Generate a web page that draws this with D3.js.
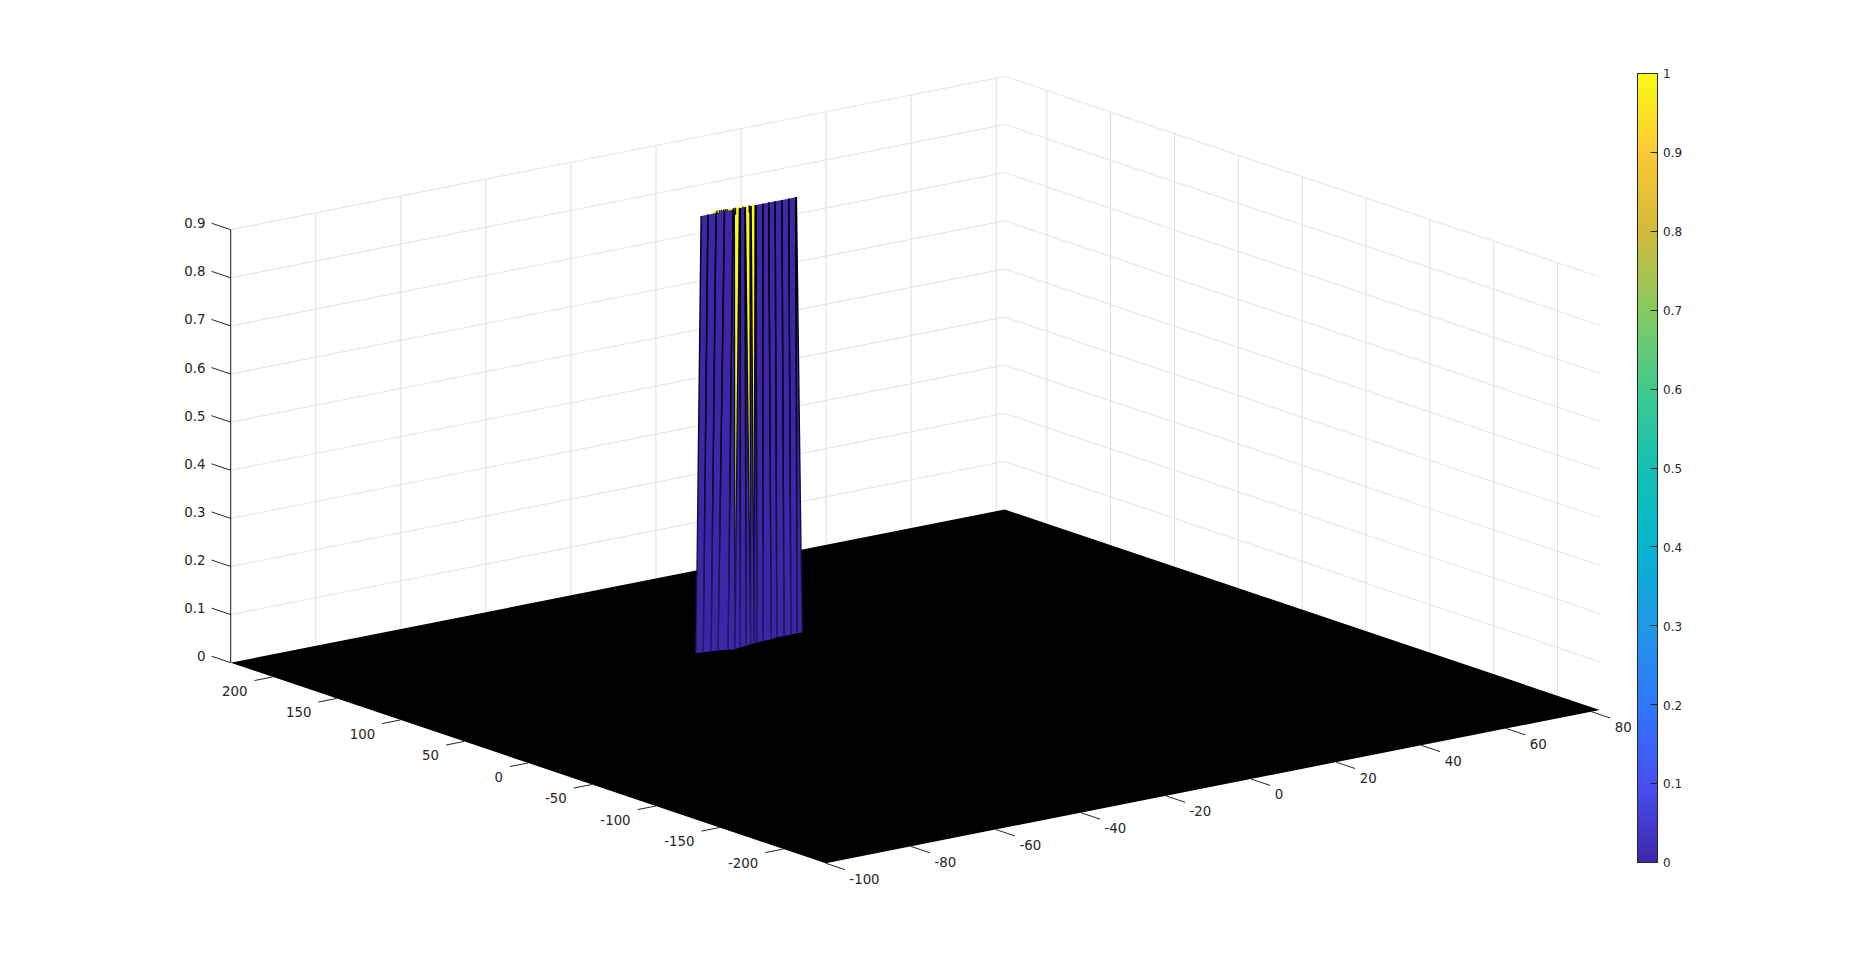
<!DOCTYPE html>
<html>
<head>
<meta charset="utf-8">
<script src="https://cdnjs.cloudflare.com/ajax/libs/d3/7.8.5/d3.min.js"></script>
<style>
html,body{margin:0;padding:0;background:#fff;overflow:hidden}
svg{display:block}
text{font-family:"DejaVu Sans",sans-serif;fill:#262626}
</style>
</head>
<body>
<svg id="chart" width="1853" height="970"></svg>
<script>
// ---- axis data
const xLimits = [-100, 82];
const yLimits = [233, -233];
const zLimits = [0, 0.9];
const xTicks = [-100, -80, -60, -40, -20, 0, 20, 40, 60, 80];
const yTicks = [200, 150, 100, 50, 0, -50, -100, -150, -200];
const zTicks = [0, 0.1, 0.2, 0.3, 0.4, 0.5, 0.6, 0.7, 0.8, 0.9];
const colorTicks = [0, 0.1, 0.2, 0.3, 0.4, 0.5, 0.6, 0.7, 0.8, 0.9, 1];
const parula = ["#3e26a8", "#4850f2", "#2f78fb", "#1f98e8", "#06b4d0", "#14c1b4", "#3fca8c", "#86cb60", "#d3b93a", "#fcc934", "#f9fb15"];

// ---- surface wall: foot of each mesh line (z = 0)
const baseX = [-26.9, -25.4, -23.8, -22.5, -20.7, -19.4, -17.7, -16.2, -14.85, -13.9, -13.2, -11.6, -9.6, -7.9, -6.3, -4.7, -3.2, -2.1];
const baseY = [112.0, 111.4, 110.6, 109.4, 107.6, 106.6, 108.0, 108.5, 109.4, 109.8, 110.0, 110.5, 110.8, 112.0, 111.7, 111.6, 111.8, 111.6];
// top of each strip (clipped at the z limit)
const topLeftX  = [-24.3, -22.7, -20.8, -18.8, -16.8, -15.3, -15.1, -13.95, -12.8, -11.6, -11.4, -9.8, -8.4, -6.9, -5.3, -3.7, -2.05];
const topRightX = [-22.7, -20.8, -18.8, -16.8, -16.5, -15.1, -13.95, -13.9, -12.55, -11.4, -9.8, -8.4, -6.9, -5.3, -3.7, -2.05, -1.9];
const topY = 116.7;
// yellow ridge behind the wall
const ridgeX = [-20.45, -11.4];
const ridgeY = [120.2, 117.6];
const ridgeMarksX = [-19.6, -19.0, -18.6, -18.2, -17.8, -17.4, -16.0, -15.6, -14.0, -12.6];

// ---- projection (orthographic, through D3 scales)
const origin = [230.7, 662.7], ex = [774, -153.3], ey = [595, 200.5], zHeight = 433;
const ux = d3.scaleLinear().domain(xLimits).range([0, 1]);
const uy = d3.scaleLinear().domain(yLimits).range([0, 1]);
const uz = d3.scaleLinear().domain(zLimits).range([0, zHeight]);
const P = (x, y, z = 0) => [
  origin[0] + ux(x) * ex[0] + uy(y) * ey[0],
  origin[1] + ux(x) * ex[1] + uy(y) * ey[1] - uz(z)
];
const line = d3.line();

const svg = d3.select("#chart");
const defs = svg.append("defs");

const edgeGrad = defs.append("linearGradient").attr("id", "edge").attr("gradientUnits", "userSpaceOnUse")
  .attr("x1", 0).attr("x2", 0).attr("y1", 200).attr("y2", 650);
edgeGrad.append("stop").attr("offset", 0).attr("stop-color", "#000000");
edgeGrad.append("stop").attr("offset", 0.55).attr("stop-color", "#0a0828");
edgeGrad.append("stop").attr("offset", 1).attr("stop-color", "#241a66");

const ridgeGrad = defs.append("linearGradient").attr("id", "ridge").attr("gradientUnits", "userSpaceOnUse")
  .attr("x1", 0).attr("x2", 0).attr("y1", 200).attr("y2", 650);
ridgeGrad.append("stop").attr("offset", 0).attr("stop-color", parula[10]);
ridgeGrad.append("stop").attr("offset", 0.66).attr("stop-color", parula[10]);
ridgeGrad.append("stop").attr("offset", 0.8).attr("stop-color", "#4c4a14");
ridgeGrad.append("stop").attr("offset", 1).attr("stop-color", "#2a2440");

const cbGrad = defs.append("linearGradient").attr("id", "cb").attr("x1", 0).attr("x2", 0).attr("y1", 1).attr("y2", 0);
parula.forEach((c, i) => cbGrad.append("stop").attr("offset", i / (parula.length - 1)).attr("stop-color", c));

// ---- walls' grid
const grid = svg.append("g").attr("stroke-width", 1).attr("fill", "none");
const [x0, x1] = xLimits, [y0, y1] = yLimits;
zTicks.slice(1).forEach(z => {
  grid.append("path").attr("stroke", "#e4e4e4").attr("d", line([P(x0, y0, z), P(x1, y0, z), P(x1, y1, z)]));
});
xTicks.slice(1).forEach(x => {
  grid.append("path").attr("stroke", "#dedede").attr("d", line([P(x, y0, 0), P(x, y0, zLimits[1])]));
});
yTicks.forEach(y => {
  grid.append("path").attr("stroke", "#dedede").attr("d", line([P(x1, y, 0), P(x1, y, zLimits[1])]));
});

// ---- z axis
svg.append("path").attr("d", line([P(x0, y0, 0), P(x0, y0, zLimits[1])])).attr("stroke", "#1a1a1a").attr("fill", "none");

// ---- floor (dense black mesh)
svg.append("path").attr("d", line([P(x0, y0), P(x1, y0), P(x1, y1), P(x0, y1)]) + "Z").attr("fill", "#000");

// ---- yellow ridge
svg.append("path").attr("d", line([
  P(ridgeX[0], ridgeY[0], zLimits[1]), P(ridgeX[1], ridgeY[1], zLimits[1]),
  P(ridgeX[1], ridgeY[1], 0), P(ridgeX[0], ridgeY[0], 0)]) + "Z").attr("fill", "url(#ridge)");
const ridgeYAt = d3.scaleLinear().domain(ridgeX).range(ridgeY);
svg.append("g").selectAll("path").data(ridgeMarksX).join("path")
  .attr("d", x => line([P(x, ridgeYAt(x), 0.9), P(x, ridgeYAt(x), 0.885)]))
  .attr("stroke", "#111").attr("stroke-width", 1.4).attr("fill", "none");

// ---- blue wall strips
const strips = topLeftX.map((tl, i) => ({
  bl: P(baseX[i], baseY[i], 0), br: P(baseX[i + 1], baseY[i + 1], 0),
  tl: P(tl, topY, zLimits[1]), tr: P(topRightX[i], topY, zLimits[1])
}));
svg.append("g").selectAll("path").data(strips).join("path")
  .attr("d", s => line([s.bl, s.br, s.tr, s.tl]) + "Z")
  .attr("fill", parula[0]);
const edges = svg.append("g").attr("stroke", "url(#edge)").attr("stroke-width", 1.4).attr("fill", "none");
strips.forEach(s => {
  edges.append("path").attr("d", line([s.bl, s.tl]));
  edges.append("path").attr("d", line([s.br, s.tr]));
});

// ---- ticks and labels
const ticks = svg.append("g").attr("stroke", "#262626").attr("fill", "none");
const labels = svg.append("g").attr("font-size", "13.33px");
const fmt = d => String(d);
zTicks.forEach(z => {
  const a = P(x0, y0, z), b = P(x0, y0 + 15, z);
  ticks.append("path").attr("d", line([a, b]));
  labels.append("text").text(fmt(z)).attr("x", b[0] - 6).attr("y", b[1] + 0.5)
    .attr("text-anchor", "end").attr("dominant-baseline", "central");
});
yTicks.forEach(y => {
  const a = P(x0, y, 0), b = P(x0 - 4.3, y, 0);
  ticks.append("path").attr("d", line([a, b]));
  labels.append("text").text(fmt(y)).attr("x", b[0] - 7).attr("y", b[1] + 10.5)
    .attr("text-anchor", "end").attr("dominant-baseline", "central");
});
xTicks.forEach(x => {
  const a = P(x, y1, 0), b = P(x, y1 - 15, 0);
  ticks.append("path").attr("d", line([a, b]));
  labels.append("text").text(fmt(x)).attr("x", b[0] + 4.5).attr("y", b[1] + 9.5)
    .attr("text-anchor", "start").attr("dominant-baseline", "central");
});

// ---- colorbar
const cbX = 1637.5, cbW = 20;
const cbScale = d3.scaleLinear().domain([0, 1]).range([862.5, 73.5]);
const cb = svg.append("g");
cb.append("rect").attr("x", cbX).attr("y", cbScale(1)).attr("width", cbW).attr("height", cbScale(0) - cbScale(1))
  .attr("fill", "url(#cb)").attr("stroke", "#262626");
cb.selectAll("line").data(colorTicks.slice(1, -1)).join("line")
  .attr("x1", cbX + cbW - 7).attr("x2", cbX + cbW)
  .attr("y1", d => Math.floor(cbScale(d)) + 0.5).attr("y2", d => Math.floor(cbScale(d)) + 0.5)
  .attr("stroke", "#262626");
cb.selectAll("text").data(colorTicks).join("text").text(fmt)
  .attr("x", 1663).attr("y", d => cbScale(d) + 0.8).attr("font-size", "12px")
  .attr("dominant-baseline", "central");
</script>
</body>
</html>
